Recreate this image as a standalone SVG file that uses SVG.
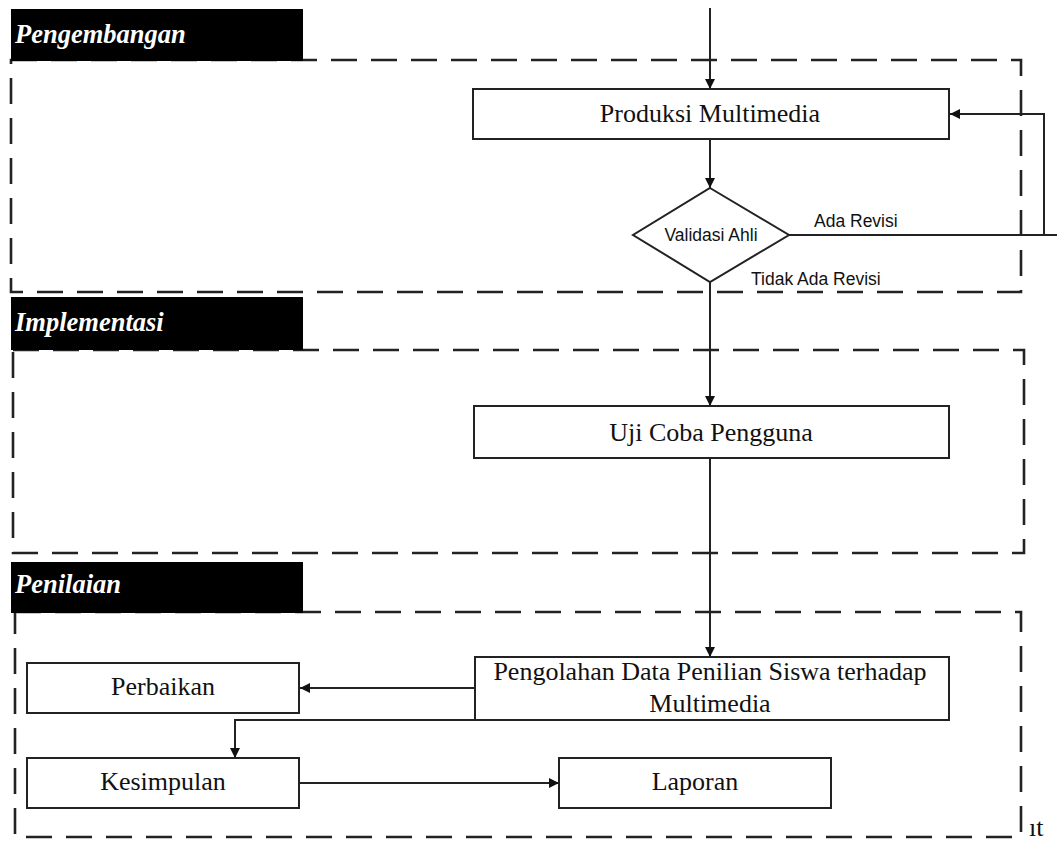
<svg xmlns="http://www.w3.org/2000/svg" width="1057" height="843" viewBox="0 0 1057 843">
<style>
.dash{fill:none;stroke:#222;stroke-width:2.6;stroke-dasharray:26 14}
.hdr{fill:#000}
.ht{fill:#fff;font-family:"Liberation Serif","Times New Roman",serif;font-style:italic;font-weight:bold;font-size:26.5px}
.box{fill:#fff;stroke:#222;stroke-width:2}
.lbl{fill:#111;font-family:"Liberation Serif","Times New Roman",serif;font-size:26px;text-anchor:middle}
.sl{fill:#111;font-family:"Liberation Sans",Arial,sans-serif;font-size:17.5px}
.con{fill:none;stroke:#222;stroke-width:2}
</style>
<defs>
<marker id="ah" viewBox="0 0 10 10" refX="10" refY="5" markerWidth="10" markerHeight="10" markerUnits="userSpaceOnUse" orient="auto">
<path d="M0,0 L10,5 L0,10 z" fill="#111"/>
</marker>
</defs>
<rect width="1057" height="843" fill="#fff"/>

<g id="lane-pengembangan">
<rect class="dash" x="11" y="60" width="1010" height="232"/>
<rect class="hdr" x="11" y="9" width="292" height="52"/>
<text class="ht" x="15" y="43">Pengembangan</text>
</g>
<g id="lane-implementasi">
<rect class="dash" x="13" y="350" width="1011" height="203"/>
<rect class="hdr" x="11" y="297" width="292" height="53"/>
<text class="ht" x="15" y="331">Implementasi</text>
</g>
<g id="lane-penilaian">
<rect class="dash" x="15" y="612" width="1006" height="225"/>
<rect class="hdr" x="11" y="562" width="292" height="51"/>
<text class="ht" x="15" y="593">Penilaian</text>
</g>

<g id="connectors">
<line class="con" x1="710" y1="8" x2="710" y2="89" marker-end="url(#ah)"/>
<line class="con" x1="710" y1="139" x2="710" y2="188" marker-end="url(#ah)"/>
<polyline class="con" points="789,235 1044,235 1044,114 950,114" marker-end="url(#ah)"/>
<line class="con" x1="1044" y1="235" x2="1057" y2="235"/>
<line class="con" x1="710" y1="282" x2="710" y2="406" marker-end="url(#ah)"/>
<line class="con" x1="710" y1="458" x2="710" y2="657" marker-end="url(#ah)"/>
<line class="con" x1="475" y1="688" x2="300" y2="688" marker-end="url(#ah)"/>
<polyline class="con" points="475,720 235,720 235,758" marker-end="url(#ah)"/>
<line class="con" x1="299" y1="783" x2="559" y2="783" marker-end="url(#ah)"/>
<text class="sl" x="814" y="227">Ada Revisi</text>
<text class="sl" x="751" y="285">Tidak Ada Revisi</text>
</g>

<g id="produksi">
<rect class="box" x="473" y="89" width="476" height="50"/>
<text class="lbl" x="710" y="122">Produksi Multimedia</text>
</g>
<g id="validasi">
<polygon class="box" points="710,188 789,235 710,282 633,235"/>
<text class="sl" x="711" y="241" text-anchor="middle">Validasi Ahli</text>
</g>
<g id="ujicoba">
<rect class="box" x="474" y="406" width="475" height="52"/>
<text class="lbl" x="711" y="441">Uji Coba Pengguna</text>
</g>
<g id="pengolahan">
<rect class="box" x="475" y="657" width="474" height="63"/>
<text class="lbl" x="710" y="680">Pengolahan Data Penilian Siswa terhadap</text>
<text class="lbl" x="710" y="712">Multimedia</text>
</g>
<g id="perbaikan">
<rect class="box" x="27" y="663" width="272" height="50"/>
<text class="lbl" x="163" y="695">Perbaikan</text>
</g>
<g id="kesimpulan">
<rect class="box" x="27" y="758" width="272" height="50"/>
<text class="lbl" x="163" y="790">Kesimpulan</text>
</g>
<g id="laporan">
<rect class="box" x="559" y="758" width="272" height="50"/>
<text class="lbl" x="695" y="790">Laporan</text>
</g>
<text x="1029" y="836" style="fill:#111;font-family:'Liberation Serif',serif;font-size:26px">ıt</text>
</svg>
